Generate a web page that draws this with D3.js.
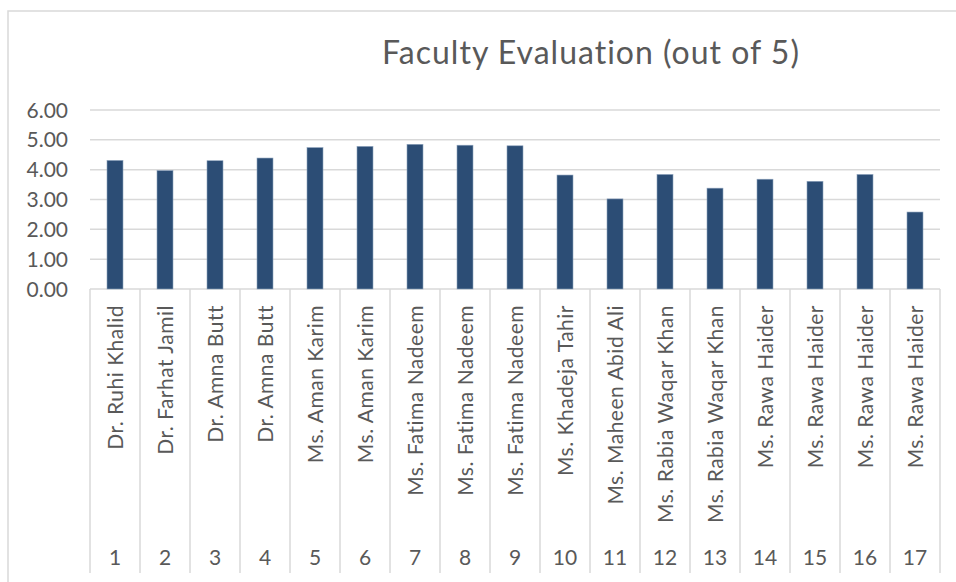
<!DOCTYPE html>
<html>
<head>
<meta charset="utf-8">
<script src="https://cdn.jsdelivr.net/npm/d3@7/dist/d3.min.js"></script>
<style>
  html, body { margin: 0; padding: 0; background: #fff; }
  svg { display: block; }
  text { font-family: Lato, "Open Sans", sans-serif; fill: #595959; }
</style>
</head>
<body>
<svg id="chart" width="956" height="582"></svg>
<script>
const indices = ["1","2","3","4","5","6","7","8","9","10","11","12","13","14","15","16","17"];
const names = ["Dr. Ruhi Khalid","Dr. Farhat Jamil","Dr. Amna Butt","Dr. Amna Butt","Ms. Aman Karim","Ms. Aman Karim","Ms. Fatima Nadeem","Ms. Fatima Nadeem","Ms. Fatima Nadeem","Ms. Khadeja Tahir","Ms. Maheen Abid Ali","Ms. Rabia Waqar Khan","Ms. Rabia Waqar Khan","Ms. Rawa Haider","Ms. Rawa Haider","Ms. Rawa Haider","Ms. Rawa Haider"];
const scores = [4.31,3.97,4.30,4.39,4.74,4.78,4.85,4.82,4.80,3.82,3.02,3.84,3.38,3.68,3.61,3.84,2.58];
const yTicks = [0,1,2,3,4,5,6];
const title = "Faculty Evaluation (out of 5)";

(function(){
const svg = d3.select("#chart");
svg.append("rect").attr("width",956).attr("height",582).attr("fill","#fff");
svg.append("rect").attr("x",8).attr("y",11).attr("width",980).attr("height",620)
  .attr("fill","none").attr("stroke","#d9d9d9").attr("stroke-width",1.5);

const pLeft = 90, pRight = 940, pTop = 110, pBase = 289, axisBottom = 573;
const x = d3.scaleBand().domain(indices).range([pLeft,pRight]).paddingInner(0.68).paddingOuter(0.34);
const y = d3.scaleLinear().domain([0,6]).range([pBase,pTop]);

svg.append("text").attr("x",591).attr("y",64).attr("text-anchor","middle")
  .style("font-size","32px").style("letter-spacing","1px").text(title);

// gridlines
svg.append("g").selectAll("line").data(yTicks).join("line")
  .attr("x1",pLeft).attr("x2",pRight).attr("y1",d=>y(d)).attr("y2",d=>y(d))
  .attr("stroke","#d9d9d9").attr("stroke-width",1.5);

// y labels
svg.append("g").selectAll("text").data(yTicks).join("text")
  .attr("x",68).attr("y",d=>y(d)).attr("dy","0.36em").attr("text-anchor","end")
  .style("font-size","21px").text(d=>d3.format(".2f")(d));

// category separators
const step = x.step();
const bounds = d3.range(indices.length+1).map(i => pLeft + i*step);
svg.append("g").selectAll("line").data(bounds).join("line")
  .attr("x1",d=>d).attr("x2",d=>d).attr("y1",pBase).attr("y2",axisBottom)
  .attr("stroke","#d9d9d9").attr("stroke-width",1.5);

// bars
svg.append("g").selectAll("rect").data(scores).join("rect")
  .attr("x",(d,i)=>x(indices[i])).attr("width",x.bandwidth())
  .attr("y",d=>y(d)).attr("height",d=>pBase-y(d))
  .attr("fill","#2c4d75").attr("stroke","#8ea3bd").attr("stroke-width",0.6);

// names
svg.append("g").selectAll("text").data(names).join("text")
  .attr("transform",(d,i)=>`translate(${x(indices[i])+x.bandwidth()/2},305) rotate(-90)`)
  .attr("dy","0.36em").attr("text-anchor","end")
  .style("font-size","21px").style("letter-spacing","0.5px").text(d=>d);

// indices
svg.append("g").selectAll("text").data(indices).join("text")
  .attr("x",d=>x(d)+x.bandwidth()/2).attr("y",565).attr("text-anchor","middle")
  .style("font-size","21px").text(d=>d);
})();
</script>
</body>
</html>
